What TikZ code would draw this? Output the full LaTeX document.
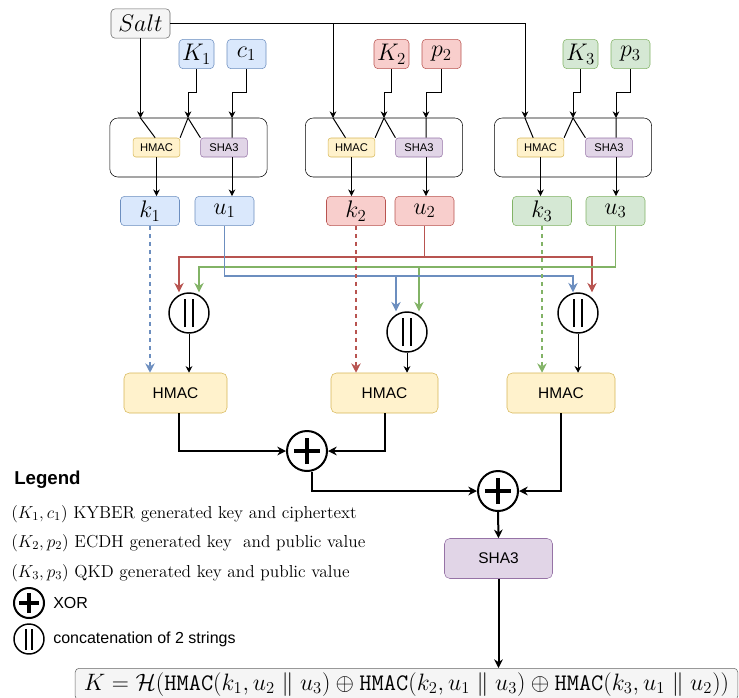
\documentclass[tikz,border=0pt]{standalone}
\usepackage{fix-cm}
\usepackage{fontspec}
\newfontfamily\helv{Liberation Sans}
\usetikzlibrary{arrows.meta}
\definecolor{blueF}{HTML}{DAE8FC}
\definecolor{blueD}{HTML}{6C8EBF}
\definecolor{redF}{HTML}{F8CECC}
\definecolor{redD}{HTML}{B85450}
\definecolor{greenF}{HTML}{D5E8D4}
\definecolor{greenD}{HTML}{82B366}
\definecolor{yelF}{HTML}{FFF2CC}
\definecolor{yelD}{HTML}{D6B656}
\definecolor{purF}{HTML}{E1D5E7}
\definecolor{purD}{HTML}{9673A6}
\definecolor{grayF}{HTML}{F5F5F5}
\definecolor{grayD}{HTML}{666666}
\begin{document}
\begin{tikzpicture}[
        x=0.75pt, y=-0.75pt,
        box/.style={draw, rounded corners=3pt, inner sep=0pt, minimum height=22pt, font=\fontsize{18}{21}\selectfont},
        bluebox/.style={box, fill=blueF, draw=blueD},
        redbox/.style={box, fill=redF, draw=redD},
        greenbox/.style={box, fill=greenF, draw=greenD},
        graybox/.style={box, fill=grayF, draw=grayD},
        grp/.style={draw, rounded corners=6pt, minimum width=118pt, minimum height=44.25pt},
        smallop/.style={draw, rounded corners=2pt, inner sep=0pt, minimum width=35pt, minimum height=14.25pt, font=\helv\fontsize{8.4}{10}\selectfont},
        bigop/.style={draw, rounded corners=4pt, inner sep=0pt, minimum height=30pt, font=\helv\fontsize{11.6}{14}\selectfont},
        hm/.style={fill=yelF, draw=yelD},
        sh/.style={fill=purF, draw=purD},
        concat/.style={circle, draw, line width=1.1pt, minimum size=#1, inner sep=0pt,
            path picture={\draw[line width=1.1pt] (path picture bounding box.center)
                +(-0.1*#1,-0.35*#1) -- +(-0.1*#1,0.35*#1) +(0.1*#1,-0.35*#1) -- +(0.1*#1,0.35*#1);}},
        xorop/.style={circle, draw, line width=1.5pt, minimum size=#1, inner sep=0pt,
            path picture={\draw[line width=2.4pt] (path picture bounding box.center)
                +(-0.33*#1,0) -- +(0.33*#1,0) +(0,-0.33*#1) -- +(0,0.33*#1);}},
        tn/.style={-{Stealth[length=5pt, width=5pt]}, line width=0.75pt},
        tk/.style={-{Stealth[length=6.5pt, width=6.5pt]}, line width=1.5pt},
        cl/.style={-{Stealth[length=7pt, width=7pt]}, line width=1.1pt},
        lgtext/.style={anchor=west, inner sep=0pt, font=\fontsize{13}{16}\selectfont}
    ]
    \useasboundingbox (0,0) rectangle (739,697);

    \node[graybox, minimum width=44.25pt] (salt) at (140.5,23.5) {$Salt$};
    \node[bluebox, minimum width=26.25pt] (K1) at (196.5,54) {$K_1$};
    \node[bluebox, minimum width=29.25pt] (c1) at (246.5,54) {$c_1$};
    \node[redbox, minimum width=26.25pt] (K2) at (391.5,54) {$K_2$};
    \node[redbox, minimum width=29.25pt] (p2) at (441.5,54) {$p_2$};
    \node[greenbox, minimum width=26.25pt] (K3) at (580.5,54) {$K_3$};
    \node[greenbox, minimum width=29.25pt] (p3) at (630.5,54) {$p_3$};

    \node[grp] (g1) at (188.5,147.5) {};
    \node[grp] (g2) at (384,147.5) {};
    \node[grp] (g3) at (573,147.5) {};
    \node[smallop, hm] (h1) at (156.5,147.5) {HMAC};
    \node[smallop, sh] (s1) at (224,147.5) {SHA3};
    \node[smallop, hm] (h2) at (351.5,147.5) {HMAC};
    \node[smallop, sh] (s2) at (419,147.5) {SHA3};
    \node[smallop, hm] (h3) at (540.5,147.5) {HMAC};
    \node[smallop, sh] (s3) at (609,147.5) {SHA3};

    \coordinate (sa1) at (140.5,118);
    \coordinate (sa2) at (333,118);
    \coordinate (sa3) at (525,118);
    \coordinate (ka1) at (188,118);
    \coordinate (ka2) at (384,118);
    \coordinate (ka3) at (573,118);
    \coordinate (ca1) at (232,118);
    \coordinate (ca2) at (426,118);
    \coordinate (ca3) at (616,118);

    \node[bluebox, minimum width=44.25pt] (k1) at (150,211) {$k_1$};
    \node[bluebox, minimum width=44.25pt] (u1) at (224.5,211) {$u_1$};
    \node[redbox, minimum width=44.25pt] (k2) at (356,211) {$k_2$};
    \node[redbox, minimum width=44.25pt] (u2) at (424.5,211) {$u_2$};
    \node[greenbox, minimum width=44.25pt] (k3) at (542,211) {$k_3$};
    \node[greenbox, minimum width=44.25pt] (u3) at (615.5,211) {$u_3$};

    \node[concat=30pt] (cc1) at (189,313) {};
    \node[concat=30pt] (cc2) at (407,332) {};
    \node[concat=30pt] (cc3) at (578,313) {};

    \node[bigop, hm, minimum width=77.25pt] (hA) at (175.5,393) {HMAC};
    \node[bigop, hm, minimum width=80.25pt] (hB) at (384.5,393) {HMAC};
    \node[bigop, hm, minimum width=81pt] (hC) at (561,393) {HMAC};

    \node[xorop=30pt] (x1) at (307,451) {};
    \node[xorop=30pt] (x2) at (498,491) {};
    \node[bigop, sh, minimum width=81pt] (sha) at (498.5,558.5) {SHA3};
    \node[anchor=north, draw=grayD, fill=grayF, rounded corners=3pt, minimum width=497pt, inner sep=3pt,
        font=\fontsize{17.8}{21}\selectfont] (fm) at (406.5,668)
        {$K=\mathcal{H}(\mathtt{HMAC}(k_1,u_2\parallel u_3)\oplus\mathtt{HMAC}(k_2,u_1\parallel u_3)\oplus\mathtt{HMAC}(k_3,u_1\parallel u_2))$};

    \draw[tn] (salt.south) -- (sa1);
    \draw[tn] (salt.east) -| (sa2);
    \draw[tn] (salt.east) -| (sa3);
    \draw[tn] (K1.south) -- ++(0,24) -| (ka1);
    \draw[tn] (c1.south) -- ++(0,24) -| (ca1);
    \draw[tn] (K2.south) -- ++(0,24) -| (ka2);
    \draw[tn] (p2.south) -- ++(0,24) -| (ca2);
    \draw[tn] (K3.south) -- ++(0,24) -| (ka3);
    \draw[tn] (p3.south) -- ++(0,24) -| (ca3);

    \draw[line width=0.75pt] (sa1) -- ([xshift=-1pt]h1.north) (ka1) -- (h1.north east) (ka1) -- (s1.north west) (ca1) -- (ca1 |- s1.north);
    \draw[line width=0.75pt] (sa2) -- ([xshift=-4.5pt]h2.north) (ka2) -- (h2.north east) (ka2) -- (s2.north west) (ca2) -- (ca2 |- s2.north);
    \draw[line width=0.75pt] (sa3) -- ([xshift=-5.5pt]h3.north) (ka3) -- (h3.north east) (ka3) -- (s3.north west) (ca3) -- (ca3 |- s3.north);

    \draw[tn] (h1.south) -- (h1.south |- k1.north);
    \draw[tn] (ca1 |- s1.south) -- (ca1 |- u1.north);
    \draw[tn] (h2.south) -- (h2.south |- k2.north);
    \draw[tn] (ca2 |- s2.south) -- (ca2 |- u2.north);
    \draw[tn] (h3.south) -- (h3.south |- k3.north);
    \draw[tn] (ca3 |- s3.south) -- (ca3 |- u3.north);

    \draw[cl, draw=redD] (u2.south) -- ++(0,31) -| ([xshift=-7.5pt]cc1.north);
    \draw[cl, draw=redD] (u2.south) -- ++(0,31) -| ([xshift=10.5pt]cc3.north);
    \draw[cl, draw=greenD] (u3.south) -- ++(0,41) -| ([xshift=7.5pt]cc1.north);
    \draw[cl, draw=greenD] (u3.south) -- ++(0,41) -| ([xshift=9pt]cc2.north);
    \draw[cl, draw=blueD] (u1.south) -- ++(0,50) -| ([xshift=-8.25pt]cc2.north);
    \draw[cl, draw=blueD] (u1.south) -- ++(0,50) -| ([xshift=-3.75pt]cc3.north);

    \draw[cl, draw=blueD, dash pattern=on 3pt off 3pt] (k1.south) -- (k1.south |- hA.north);
    \draw[cl, draw=redD, dash pattern=on 3pt off 3pt] (k2.south) -- (k2.south |- hB.north);
    \draw[cl, draw=greenD, dash pattern=on 3pt off 3pt] (k3.south) -- (k3.south |- hC.north);

    \draw[tn] (cc1.south) -- (cc1.south |- hA.north);
    \draw[tn] (cc2.south) -- (cc2.south |- hB.north);
    \draw[tn] (cc3.south) -- (cc3.south |- hC.north);

    \draw[tk] ([xshift=2.6pt]hA.south) |- (x1.west);
    \draw[tk] (hB.south) |- (x1.east);
    \draw[tk] (hC.south) |- (x2.east);
    \draw[tk] ([xshift=3.75pt]x1.south) |- (x2.west);
    \draw[tk] (x2.south) -- (sha.north);
    \draw[tk] (sha.south) -- (sha.south |- fm.north);

    \node[anchor=west, inner sep=0pt, font=\helv\bfseries\fontsize{14}{17}\selectfont] (lg) at (14,480) {Legend};
    \node[lgtext] (l1) at (11,514) {$(K_1,c_1)$ KYBER generated key and ciphertext};
    \node[lgtext] (l2) at (11,543) {$(K_2,p_2)$ ECDH generated key\ \ and public value};
    \node[lgtext] (l3) at (11,573) {$(K_3,p_3)$ QKD generated key and public value};
    \node[xorop=22.5pt] (lx) at (29,603) {};
    \node[anchor=west, inner sep=0pt, font=\helv\fontsize{12}{14}\selectfont] (lxt) at (53,603) {XOR};
    \node[concat=22.5pt] (lc) at (29,639) {};
    \node[anchor=west, inner sep=0pt, font=\helv\fontsize{12}{14}\selectfont] (lct) at (53,639) {concatenation of 2 strings};
\end{tikzpicture}
\end{document}
